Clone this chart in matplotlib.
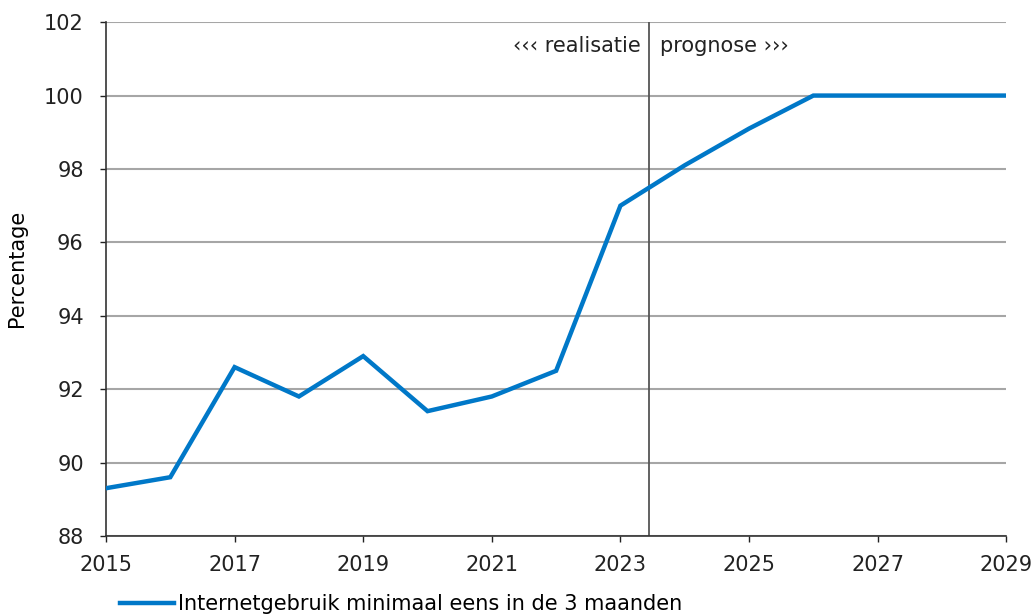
import matplotlib.pyplot as plt

# internetgebruik per jaar (realisatie t/m 2023, daarna prognose)
years = [2015, 2016, 2017, 2018, 2019, 2020, 2021, 2022, 2023,
         2024, 2025, 2026, 2027, 2028, 2029]
values = [89.3, 89.6, 92.6, 91.8, 92.9, 91.4, 91.8, 92.5, 97.0,
          98.1, 99.1, 100.0, 100.0, 100.0, 100.0]
split_year = 2023.45
label = "Internetgebruik minimaal eens in de 3 maanden"

plt.rcParams["font.family"] = ["DejaVu Sans"]
fs = 15

fig = plt.figure(figsize=(10.36, 6.16), dpi=100)
ax = fig.add_axes([0.1023, 0.130, 0.8690, 0.834])

ax.plot(years, values, color="#0078c8", linewidth=3.2, label=label,
        solid_joinstyle="miter", zorder=3)
ax.axvline(split_year, color="#555555", linewidth=1.3, zorder=2)

ax.set_xlim(2015, 2029)
ax.set_ylim(88, 102)
ax.set_xticks(range(2015, 2030, 2))
ax.set_yticks(range(88, 103, 2))
ax.yaxis.grid(True, color="#a6a6a6", linewidth=1.5)
ax.set_axisbelow(True)

for s in ["top", "right"]:
    ax.spines[s].set_visible(False)
for s in ["left", "bottom"]:
    ax.spines[s].set_color("#333333")
    ax.spines[s].set_linewidth(1.2)

ax.tick_params(axis="both", labelsize=fs, colors="#222222", length=4, width=1)
ax.tick_params(axis="y", pad=12)
ax.tick_params(axis="x", pad=10)
ax.set_ylabel("Percentage", fontsize=fs)
ax.yaxis.set_label_coords(-0.088, 0.52)

ax.text(split_year - 0.14, 101.35, "\u2039\u2039\u2039 realisatie", ha="right",
        va="center", fontsize=fs, color="#222222")
ax.text(split_year + 0.16, 101.35, "prognose \u203a\u203a\u203a", ha="left",
        va="center", fontsize=fs, color="#222222")

fig.legend(loc="lower left", bbox_to_anchor=(0.098, -0.028), frameon=False,
           fontsize=fs, handlelength=2.6, handletextpad=0.15)

fig.savefig("out.png", dpi=100)
